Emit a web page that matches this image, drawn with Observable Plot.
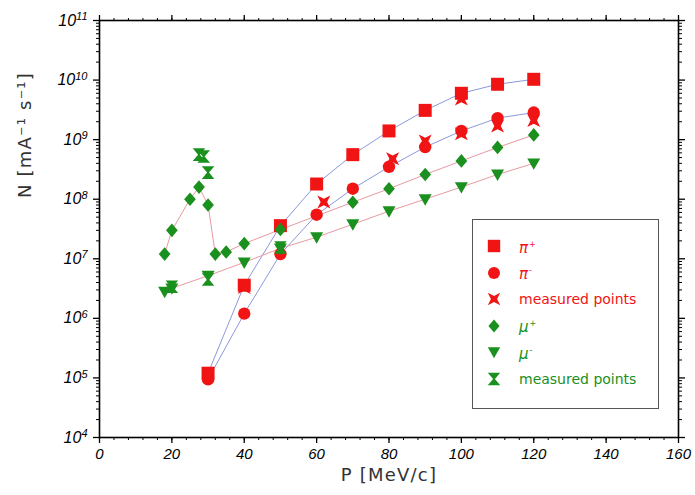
<!DOCTYPE html>
<html><head><meta charset="utf-8">
<script src="https://cdn.jsdelivr.net/npm/d3@7"></script>
<script src="https://cdn.jsdelivr.net/npm/@observablehq/plot@0.6"></script>
<style>
body{margin:0;background:#fff;}
#wrap{position:relative;width:695px;height:495px;background:#fff;}
#legend{position:absolute;left:472px;top:219px;width:187px;height:190px;border:1.5px solid #555;background:#fff;box-sizing:border-box;}
.row{position:absolute;left:0;height:24px;display:flex;align-items:center;}
.row svg{position:absolute;left:9px;top:0;}
.row span{position:absolute;left:46px;white-space:nowrap;font-family:"DejaVu Sans";font-size:14px;line-height:24px;}
.sym{font-family:"Liberation Serif";font-style:italic;font-size:15px!important;}
.sym sup{font-size:8px;font-style:normal;vertical-align:6px;margin-left:1px;}
</style></head><body><div id="wrap"><div id="legend"></div></div>
<script>
// ---- data ----
const piX = [30,40,50,60,70,80,90,100,110,120];
const piPlus = [1.2e5,3.6e6,3.6e7,1.8e8,5.6e8,1.4e9,3.1e9,6.0e9,8.5e9,1.03e10];
const piMinus = [9.5e4,1.2e6,1.2e7,5.5e7,1.5e8,3.5e8,7.5e8,1.4e9,2.3e9,2.85e9];
const piMeasX = [30,40,62,81,90,100,100,110,120];
const piMeas = [1.1e5,3.3e6,9.0e7,4.8e8,9.5e8,4.8e9,1.25e9,1.7e9,2.1e9];
const muPlusX = [18,20,25,27.5,30,32,35,40,50,70,80,90,100,110,120];
const muPlus = [1.2e7,3.0e7,1.0e8,1.6e8,8.0e7,1.2e7,1.3e7,1.8e7,3.1e7,8.9e7,1.5e8,2.6e8,4.4e8,7.4e8,1.2e9];
const muMinusX = [18,20,30,40,50,60,70,80,90,100,110,120];
const muMinus = [2.8e6,3.2e6,5.2e6,8.7e6,1.5e7,2.3e7,3.8e7,6.3e7,1.0e8,1.6e8,2.6e8,4.0e8];
const muMeasX = [20,27.5,28.8,30,30,50];
const muMeas = [3.4e6,5.6e8,5.2e8,2.8e8,4.5e6,1.55e7];
const xTicks = [0,20,40,60,80,100,120,140,160];
const xMinor = d3.range(0,161,4);
const yTicks = [1e4,1e5,1e6,1e7,1e8,1e9,1e10,1e11];
const yMinor = d3.range(4,11).flatMap(e => d3.range(2,10).map(m => m*Math.pow(10,e)));
const legendLabels = ["π+","π-","measured points","μ+","μ-","measured points"];

const red = "#f01414", green = "#1a901e", blue = "#8c98dc", pink = "#e69aa2";
const pts = (xs, ys) => xs.map((x,i) => ({x, y: ys[i]}));

// custom symbols (size = π r²)
const R = s => Math.sqrt(s/Math.PI);
const poly = (ctx, p) => { ctx.moveTo(p[0][0],p[0][1]); for (let i=1;i<p.length;i++) ctx.lineTo(p[i][0],p[i][1]); ctx.closePath(); };
const symSquare = {draw(c,s){const r=R(s); poly(c,[[-r,-r],[r,-r],[r,r],[-r,r]]);}};
const symCircle = {draw(c,s){const r=R(s); c.moveTo(r,0); c.arc(0,0,r,0,2*Math.PI); c.closePath();}};
const symDiamond = {draw(c,s){const r=R(s); poly(c,[[0,-1.05*r],[0.9*r,0],[0,1.05*r],[-0.9*r,0]]);}};
const symTriDown = {draw(c,s){const r=R(s); poly(c,[[-r,-0.75*r],[r,-0.75*r],[0,r]]);}};
const symHour = {draw(c,s){const r=R(s); poly(c,[[-r,-r],[r,-r],[0.15*r,0],[r,r],[-r,r],[-0.15*r,0]]);}};
const symX = {draw(c,s){const r=R(s); poly(c,[[-r,-r],[0,-0.5*r],[r,-r],[0.5*r,0],[r,r],[0,0.5*r],[-r,r],[-0.5*r,0]]);}};

const font = "Liberation Sans";
const chart = Plot.plot({
  width: 695, height: 495,
  marginLeft: 99, marginRight: 17, marginTop: 20, marginBottom: 58,
  style: {fontFamily: font, background: "white"},
  x: {domain: [0,160]},
  y: {type: "log", domain: [1e4,1e11]},
  marks: [
    Plot.line(pts(piX,piPlus), {x:"x", y:"y", stroke: blue, strokeWidth: 1}),
    Plot.line(pts(piX,piMinus), {x:"x", y:"y", stroke: blue, strokeWidth: 1}),
    Plot.line(pts(muPlusX,muPlus), {x:"x", y:"y", stroke: pink, strokeWidth: 1}),
    Plot.line(pts(muMinusX,muMinus), {x:"x", y:"y", stroke: pink, strokeWidth: 1}),
    Plot.dot(pts(piX,piPlus), {x:"x", y:"y", symbol: symSquare, r: 6.5, fill: red}),
    Plot.dot(pts(piX,piMinus), {x:"x", y:"y", symbol: symCircle, r: 6.2, fill: red}),
    Plot.dot(pts(piMeasX,piMeas), {x:"x", y:"y", symbol: symX, r: 6.5, fill: red}),
    Plot.dot(pts(muMinusX,muMinus), {x:"x", y:"y", symbol: symTriDown, r: 6.5, fill: green}),
    Plot.dot(pts(muPlusX,muPlus), {x:"x", y:"y", symbol: symDiamond, r: 6.5, fill: green}),
    Plot.dot(pts(muMeasX,muMeas), {x:"x", y:"y", symbol: symHour, r: 6.3, fill: green}),
    Plot.frame({stroke: "black", strokeWidth: 1.6}),
    Plot.axisX({ticks: xTicks, tickSize: 6, tickPadding: 5, tickFormat: d => d, fontSize: 15, fontStyle: "italic", label: null, strokeWidth: 1.3}),
    Plot.axisX({ticks: xMinor, tickSize: 3, tickFormat: () => "", label: null}),
    Plot.axisX({anchor: "top", ticks: xTicks, tickSize: 6, tickFormat: () => "", label: null, strokeWidth: 1.3}),
    Plot.axisX({anchor: "top", ticks: xMinor, tickSize: 3, tickFormat: () => "", label: null}),
    Plot.axisY({ticks: yTicks, tickSize: 6, tickPadding: 6, tickFormat: d => String(Math.round(Math.log10(d))), fontSize: 16, fontStyle: "italic", label: null, strokeWidth: 1.3}),
    Plot.axisY({ticks: yMinor, tickSize: 3, tickFormat: () => "", label: null}),
    Plot.axisY({anchor: "right", ticks: yTicks, tickSize: 6, tickFormat: () => "", label: null, strokeWidth: 1.3}),
    Plot.axisY({anchor: "right", ticks: yMinor, tickSize: 3, tickFormat: () => "", label: null}),
    Plot.text(["P [MeV/c]"], {frameAnchor: "bottom", dy: 43, fontSize: 18, fontFamily: "DejaVu Sans", fill: "#333"}),
    Plot.text(["N [mA⁻¹ s⁻¹]"], {frameAnchor: "left", dx: -74, dy: -31, rotate: -90, fontSize: 18, fontFamily: "DejaVu Sans", fill: "#333"})
  ]
});
document.getElementById("wrap").prepend(chart);

// letter spacing on the axis titles
d3.select(chart).selectAll('g[aria-label="text"] text').attr("letter-spacing", "1.2px");

// superscript exponents on y tick labels
d3.select(chart).selectAll('g[aria-label="y-axis tick label"] text').each(function() {
  const t = d3.select(this), n = this.textContent;
  if (!n) return;
  t.text("");
  t.append("tspan").text("10");
  t.append("tspan").attr("dy", "-0.5em").attr("font-size", 11).text(n);
});

// legend
const legendSyms = [symSquare, symCircle, symX, symDiamond, symTriDown, symHour];
const legendColors = [red, red, red, green, green, green];
const legend = document.getElementById("legend");
legendLabels.forEach((lab, i) => {
  const row = document.createElement("div");
  row.className = "row";
  row.style.top = (14 + i*26.6) + "px";
  const sz = i === 1 ? 6 : 6.2;
  const path = d3.symbol(legendSyms[i], Math.PI*sz*sz)();
  row.innerHTML = `<svg width="24" height="24"><path transform="translate(12,12)" d="${path}" fill="${legendColors[i]}"/></svg>`;
  const sp = document.createElement("span");
  sp.style.color = legendColors[i];
  if (lab.length === 2) {
    sp.className = "sym";
    sp.innerHTML = `${lab[0]}<sup>${lab[1]}</sup>`;
  } else sp.textContent = lab;
  row.appendChild(sp);
  legend.appendChild(row);
});
</script></body></html>
